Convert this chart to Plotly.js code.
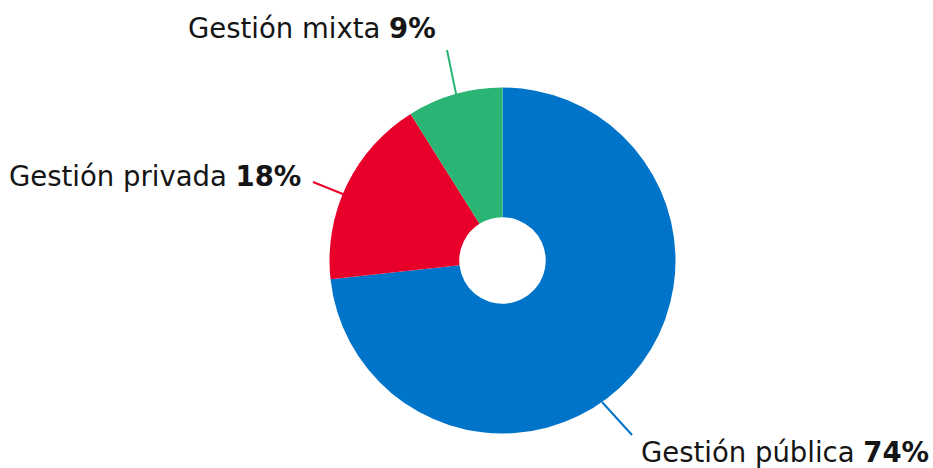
<!DOCTYPE html>
<html>
<head>
<meta charset="utf-8">
<script src="https://cdn.plot.ly/plotly-3.0.1.min.js"></script>
<style>html,body{margin:0;padding:0;background:#fff}#chart{width:933px;height:468px}</style>
</head>
<body>
<div id="chart"></div>
<script>
const categories = ["Gestión pública", "Gestión privada", "Gestión mixta"];
const values = [74, 18, 9];
const colors = ["#0074C9", "#E8002B", "#2BB574"];

const W = 933, H = 468;
const px = x => x / W;
const py = y => 1 - y / H;

// label anchors (pixels) and leader lines
const labelPos = [
  {x: 931, y: 452, xanchor: "right"},
  {x: 303, y: 176, xanchor: "right"},
  {x: 312, y: 28, xanchor: "center"}
];
const leaders = [
  [602, 402, 632, 435],
  [313, 182, 380, 209],
  [447, 50, 461, 118]
];

const font = "DejaVu Sans, sans-serif";

const data = [{
  type: "pie",
  labels: categories,
  values: values,
  hole: 0.25,
  sort: false,
  direction: "clockwise",
  rotation: 0,
  textinfo: "none",
  hoverinfo: "label+percent",
  marker: {colors: colors, line: {width: 0}},
  domain: {x: [px(329.5), px(675.5)], y: [py(433.5), py(87.5)]},
  showlegend: false
}];

const annotations = categories.map((c, i) => ({
  xref: "paper", yref: "paper",
  x: px(labelPos[i].x), y: py(labelPos[i].y),
  xanchor: labelPos[i].xanchor, yanchor: "middle",
  showarrow: false,
  text: c + " <b>" + values[i] + "%</b>",
  font: {family: font, size: 27.5, color: "#151515"}
}));

const shapes = leaders.map((l, i) => ({
  type: "line", xref: "paper", yref: "paper",
  x0: px(l[0]), y0: py(l[1]), x1: px(l[2]), y1: py(l[3]),
  line: {color: colors[i], width: 2}
}));

Plotly.newPlot("chart", data, {
  width: W, height: H,
  margin: {l: 0, r: 0, t: 0, b: 0},
  paper_bgcolor: "#fff",
  annotations: annotations,
  shapes: shapes
}, {displayModeBar: false, staticPlot: true});
</script>
</body>
</html>
